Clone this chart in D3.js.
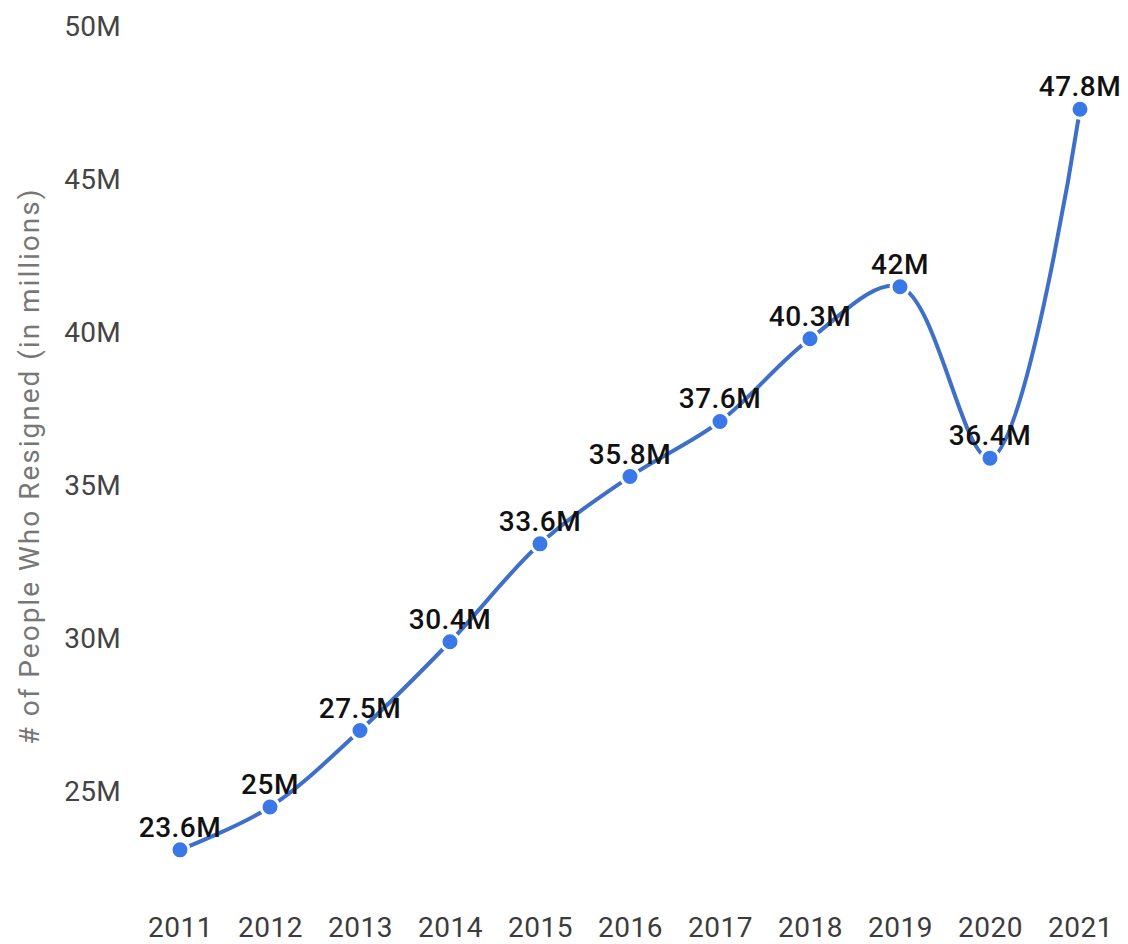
<!DOCTYPE html>
<html>
<head>
<meta charset="utf-8">
<script src="https://cdn.jsdelivr.net/npm/d3@7"></script>
<style>
  html, body { margin: 0; padding: 0; background: #fff; }
  svg { display: block; font-family: Roboto, "Noto Sans", sans-serif; }
</style>
</head>
<body>
<svg id="chart" width="1128" height="944"></svg>
<script>
// Annual resignations, 2011–2021 (millions)
const years = ["2011", "2012", "2013", "2014", "2015", "2016", "2017", "2018", "2019", "2020", "2021"];
const resigned = [23.6, 25, 27.5, 30.4, 33.6, 35.8, 37.6, 40.3, 42, 36.4, 47.8];
const valueLabels = ["23.6M", "25M", "27.5M", "30.4M", "33.6M", "35.8M", "37.6M", "40.3M", "42M", "36.4M", "47.8M"];
const yTicks = [25, 30, 35, 40, 45, 50];
const yTickLabels = ["25M", "30M", "35M", "40M", "45M", "50M"];
const yTitle = "# of People Who Resigned (in millions)";

const svg = d3.select("#chart");

const x = d3.scalePoint().domain(years).range([180, 1080]);
const y = d3.scaleLinear().domain([25, 50]).range([807, 42]);

const data = years.map((yr, i) => ({ year: yr, value: resigned[i], label: valueLabels[i] }));

// Y axis: labels only, sitting just above each (hidden) tick line
const yAxis = d3.axisLeft(y)
  .tickValues(yTicks)
  .tickFormat((d, i) => yTickLabels[i])
  .tickSize(0)
  .tickPadding(0);

const gy = svg.append("g")
  .attr("transform", "translate(121,0)")
  .call(yAxis);
gy.select(".domain").remove();
gy.selectAll("text")
  .attr("dy", "-7px")
  .attr("x", 0)
  .style("font-size", "28px")
  .style("fill", "#444")
  .style("letter-spacing", "0.3px")
  .style("font-family", "Roboto, sans-serif");

// X axis: year labels
const xAxis = d3.axisBottom(x).tickSize(0).tickPadding(0);
const gx = svg.append("g")
  .attr("transform", "translate(0,937)")
  .call(xAxis);
gx.select(".domain").remove();
gx.selectAll("text")
  .attr("y", 0)
  .attr("dy", 0)
  .style("font-size", "28px")
  .style("fill", "#3c3c3c")
  .style("letter-spacing", "0.5px")
  .style("font-family", "Roboto, sans-serif");

// Y axis title
svg.append("text")
  .attr("transform", "translate(39,466) rotate(-90)")
  .attr("text-anchor", "middle")
  .style("font-size", "28px")
  .style("letter-spacing", "2px")
  .style("fill", "#777")
  .text(yTitle);

// Smoothed series line
const line = d3.line()
  .x(d => x(d.year))
  .y(d => y(d.value))
  .curve(d3.curveCatmullRom.alpha(0.5));

svg.append("path")
  .datum(data)
  .attr("fill", "none")
  .attr("stroke", "#3f6fc8")
  .attr("stroke-width", 4)
  .attr("d", line);

// Points with a white ring
svg.append("g")
  .selectAll("circle")
  .data(data)
  .join("circle")
  .attr("cx", d => x(d.year))
  .attr("cy", d => y(d.value))
  .attr("r", 9)
  .attr("fill", "#3b78e7")
  .attr("stroke", "#fff")
  .attr("stroke-width", 3);

// Value labels above points
svg.append("g")
  .selectAll("text")
  .data(data)
  .join("text")
  .attr("x", d => x(d.year))
  .attr("y", d => y(d.value) - 13)
  .attr("text-anchor", "middle")
  .style("font-size", "28px")
  .style("font-weight", 500)
  .style("letter-spacing", "0.5px")
  .style("fill", "#111")
  .text(d => d.label);
</script>
</body>
</html>
